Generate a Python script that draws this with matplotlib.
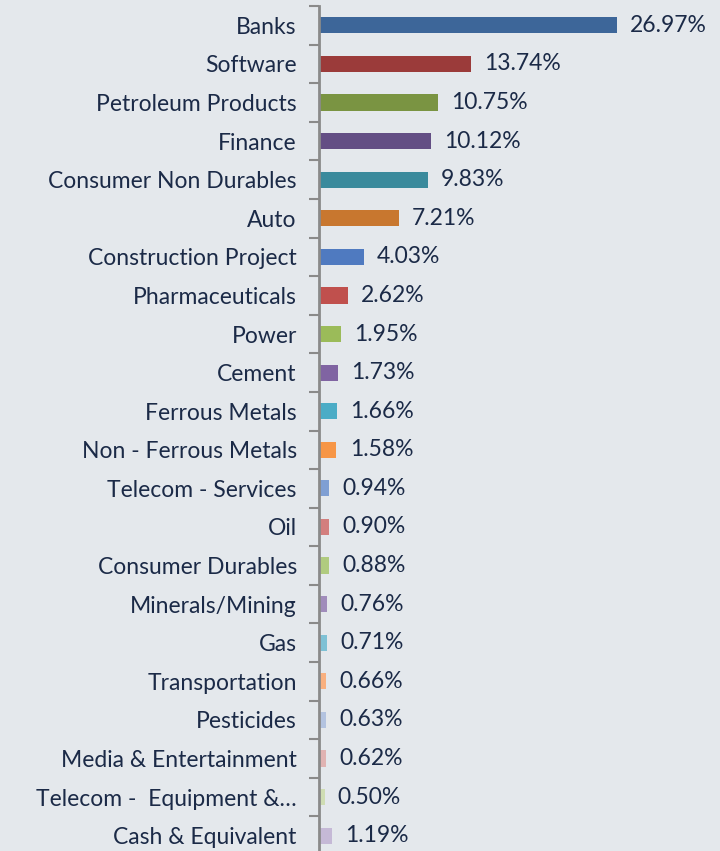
import matplotlib
matplotlib.use("Agg")
import numpy as np
from matplotlib import pyplot as plt

# data, top to bottom
sectors = ["Banks", "Software", "Petroleum Products", "Finance", "Consumer Non Durables",
           "Auto", "Construction Project", "Pharmaceuticals", "Power", "Cement",
           "Ferrous Metals", "Non - Ferrous Metals", "Telecom - Services", "Oil",
           "Consumer Durables", "Minerals/Mining", "Gas", "Transportation", "Pesticides",
           "Media & Entertainment", "Telecom -  Equipment &\u2026", "Cash & Equivalent"]
weights = [26.97, 13.74, 10.75, 10.12, 9.83, 7.21, 4.03, 2.62, 1.95, 1.73, 1.66, 1.58,
           0.94, 0.90, 0.88, 0.76, 0.71, 0.66, 0.63, 0.62, 0.50, 1.19]
colors = ["#3D6699", "#9B3B3A", "#7A9442", "#634E84", "#3A8A9C", "#C8772F",
          "#4F7AC0", "#C0504D", "#9BBB59", "#8064A2", "#4BACC6", "#F79646",
          "#7F9FD3", "#D37F7E", "#B0CB7F", "#A08CBB", "#7EC1D5", "#F9B07F",
          "#B3C3E0", "#E0B3B2", "#CFDDB3", "#C5B9D6"]

bg = "#E4E8EC"
txt = "#1B2A47"
plt.rcParams['font.family'] = ['Lato', 'DejaVu Sans']

fig = plt.figure(figsize=(7.2, 8.51), dpi=100, facecolor=bg)
ax = fig.add_axes([319/720, -4/851, 401/720, 849/851])
ax.set_facecolor(bg)

y = np.arange(len(sectors))
ax.barh(y, weights, height=0.42, color=colors)
for yi, w in zip(y, weights):
    ax.text(w + 1.2, yi, f"{w:.2f}%", va="center", ha="left", fontsize=16.5, color=txt)

ax.set_ylim(len(sectors) - 0.5, -0.5)
ax.set_xlim(0, 36.3)
ax.set_yticks(y)
ax.set_yticklabels(sectors, fontsize=16.5, color=txt)
ax.set_yticks(np.arange(len(sectors) + 1) - 0.5, minor=True)
ax.tick_params(axis="y", which="major", length=0, pad=16)
ax.tick_params(axis="y", which="minor", length=7, width=1.5, color="#8A8A8A")
ax.set_xticks([])
for s in ["top", "right", "bottom"]:
    ax.spines[s].set_visible(False)
ax.spines["left"].set_color("#8A8A8A")
ax.spines["left"].set_linewidth(2)

plt.savefig("out.png", dpi=100, facecolor=bg)
